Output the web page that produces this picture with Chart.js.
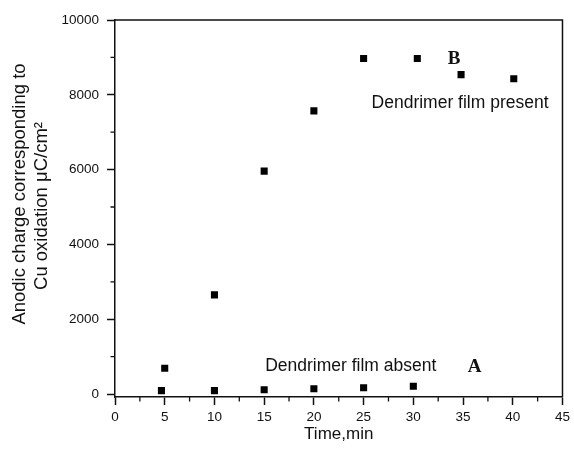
<!DOCTYPE html>
<html><head><meta charset="utf-8">
<script src="https://cdn.jsdelivr.net/npm/chart.js@4/dist/chart.umd.min.js"></script>
<style>html,body{margin:0;padding:0;background:#fff}#wrap{width:574px;height:452px}</style>
</head><body><div id="wrap"><canvas id="c" width="574" height="452"></canvas></div>
<script>
// ---- data ----
const timeAbsent = [4.67, 10, 15, 20, 25, 30];
const chargeAbsent = [90, 90, 115, 142, 169, 206];
const timePresent = [5, 10, 15, 20, 25, 30.4, 34.8, 40.1];
const chargePresent = [690, 2650, 5960, 7570, 8970, 8970, 8540, 8430];
const xMajorTicks = [0, 5, 10, 15, 20, 25, 30, 35, 40, 45];
const xMinorTicks = [2.5, 7.5, 12.5, 17.5, 22.5, 27.5, 32.5, 37.5, 42.5];
const yMajorTicks = [0, 2000, 4000, 6000, 8000, 10000];
const yMinorTicks = [1000, 3000, 5000, 7000, 9000];
const yTitleLines = ['Anodic charge corresponding to', 'Cu oxidation \u03bcC/cm\u00b2'];
const annotationTexts = ["B", "Dendrimer film present", "Dendrimer film absent", "A"];
const annotationX = [34.1, 25.8, 15.1, 36.17];
const annotationY = [8965, 7781, 749, 722];

// ---- styles ----
const annotationFonts = ["bold 19px 'Liberation Serif'", "17.5px 'Liberation Sans'", "17.5px 'Liberation Sans'", "bold 19px 'Liberation Serif'"];
const annotationAlign = ["center", "left", "left", "center"];
const yTitleFont = "18.5px 'Liberation Sans'";
const yTitleCX = [19.5, 41.5];      // px, centre of each rotated line
const yTitleCY = [194, 206];
const INK = '#111';

const toPts = (xs, ys) => xs.map((x, i) => ({x: x, y: ys[i]}));

const framePlugin = {
  id: 'frame',
  afterDraw(chart) {
    const {ctx, chartArea: a, scales: {x, y}} = chart;
    ctx.save();
    ctx.strokeStyle = INK;
    ctx.lineWidth = 1.5;
    ctx.beginPath();
    ctx.moveTo(a.left, a.top);
    ctx.lineTo(a.right, a.top);
    ctx.lineTo(a.right, a.bottom);
    ctx.stroke();
    ctx.lineWidth = 1.3;
    ctx.beginPath();
    xMinorTicks.forEach(v => { const px = x.getPixelForValue(v); ctx.moveTo(px, a.bottom); ctx.lineTo(px, a.bottom + 4.5); });
    yMinorTicks.forEach(v => { const py = y.getPixelForValue(v); ctx.moveTo(a.left, py); ctx.lineTo(a.left - 4.5, py); });
    ctx.stroke();
    ctx.fillStyle = INK;
    ctx.textBaseline = 'middle';
    annotationTexts.forEach((t, i) => {
      ctx.font = annotationFonts[i];
      ctx.textAlign = annotationAlign[i];
      ctx.fillText(t, x.getPixelForValue(annotationX[i]), y.getPixelForValue(annotationY[i]));
    });
    // y-axis title (two rotated lines)
    ctx.font = yTitleFont;
    ctx.textAlign = 'center';
    yTitleLines.forEach((t, i) => {
      ctx.save();
      ctx.translate(yTitleCX[i], yTitleCY[i]);
      ctx.rotate(-Math.PI / 2);
      ctx.fillText(t, 0, 0);
      ctx.restore();
    });
    ctx.restore();
  }
};

const tickFont = {family: "'Liberation Sans', Arial, sans-serif", size: 13.5};

new Chart(document.getElementById('c'), {
  type: 'scatter',
  data: {
    datasets: [
      {label: 'Dendrimer film absent', data: toPts(timeAbsent, chargeAbsent),
       pointStyle: 'rect', radius: 5, backgroundColor: '#000', borderColor: '#000', borderWidth: 0},
      {label: 'Dendrimer film present', data: toPts(timePresent, chargePresent),
       pointStyle: 'rect', radius: 5, backgroundColor: '#000', borderColor: '#000', borderWidth: 0}
    ]
  },
  options: {
    responsive: false,
    animation: false,
    devicePixelRatio: 1,
    layout: {padding: {left: 0, right: 9, top: 20, bottom: 0}},
    plugins: {legend: {display: false}, tooltip: {enabled: false}},
    scales: {
      x: {
        type: 'linear', min: 0, max: 45,
        afterBuildTicks: s => { s.ticks = xMajorTicks.map(v => ({value: v})); },
        afterFit: s => { s.height = 55; },
        ticks: {autoSkip: false, maxRotation: 0, font: tickFont, color: INK, padding: 4,
                callback: v => String(v)},
        grid: {drawOnChartArea: false, drawTicks: true, tickLength: 8, tickColor: INK, tickWidth: 1.5},
        border: {display: true, color: INK, width: 1.5},
        title: {display: true, text: 'Time,min', color: INK,
                font: {family: "'Liberation Sans', Arial, sans-serif", size: 17},
                padding: {top: 0, bottom: 7}}
      },
      y: {
        type: 'linear', min: -80, max: 10000,
        afterBuildTicks: s => { s.ticks = yMajorTicks.map(v => ({value: v})); },
        afterFit: s => { s.width = 115; },
        ticks: {autoSkip: false, font: tickFont, color: INK, padding: 8,
                callback: v => String(v)},
        grid: {drawOnChartArea: false, drawTicks: true, tickLength: 8, tickColor: INK, tickWidth: 1.5},
        border: {display: true, color: INK, width: 1.5},
        title: {display: false}
      }
    }
  },
  plugins: [framePlugin]
});
</script>
</body></html>
